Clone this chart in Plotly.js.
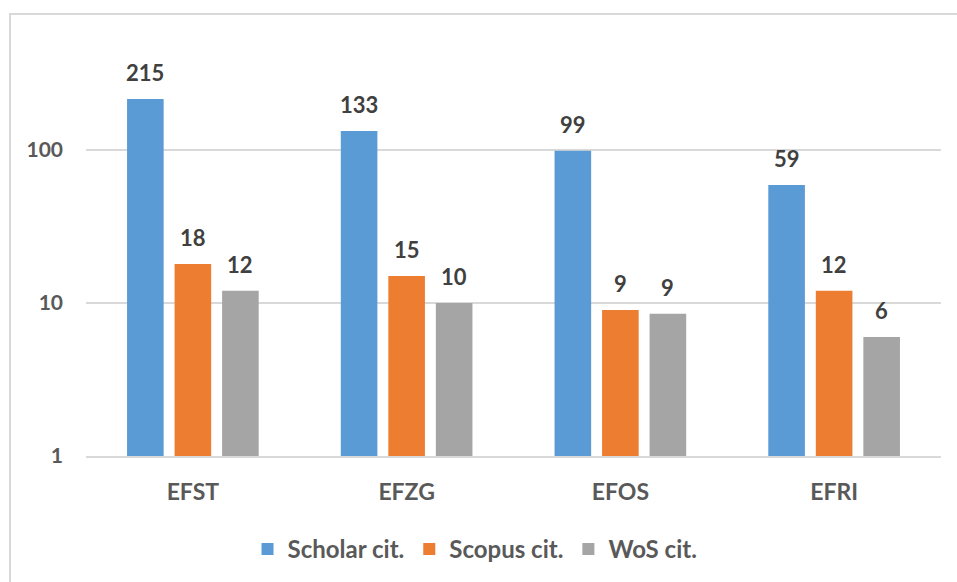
<!DOCTYPE html>
<html>
<head>
<meta charset="utf-8">
<script src="https://cdn.plot.ly/plotly-3.0.1.min.js"></script>
<style>
html,body{margin:0;padding:0;background:#fff;overflow:hidden;}
#frame{position:absolute;left:9px;top:13px;width:1000px;height:600px;border:2px solid #d9d9d9;box-sizing:border-box;}
#chart{position:absolute;left:0;top:0;width:957px;height:582px;}
</style>
</head>
<body>
<div id="frame"></div>
<div id="chart"></div>
<script>
const categories = ["EFST", "EFZG", "EFOS", "EFRI"];
const scholar = [215, 133, 99, 59];
const scopus = [18, 15, 9, 12];
const wos = [12, 10, 8.5, 6];
const seriesNames = ["Scholar cit.", "Scopus cit.", "WoS cit."];
const yTicks = [1, 10, 100];
const yTickText = ["1", "10", "100"];

const colors = ["#5b9bd5", "#ed7d31", "#a5a5a5"];
const font = "Lato, 'Open Sans', sans-serif";
const series = [scholar, scopus, wos];
const bargap = 0.333;
const slot = (1 - bargap) / series.length;

const traces = series.map((vals, i) => ({
  type: "bar",
  name: seriesNames[i],
  x: categories,
  y: vals,
  marker: {color: colors[i]},
  hoverinfo: "x+y"
}));

const annotations = [];
series.forEach((vals, k) => {
  vals.forEach((v, ci) => {
    annotations.push({
      xref: "x", yref: "y",
      x: ci + (k - (series.length - 1) / 2) * slot,
      y: Math.log10(v),
      text: String(Math.round(v)),
      showarrow: false,
      xanchor: "center", yanchor: "bottom",
      yshift: 11,
      font: {family: font, size: 22, color: "#404040", weight: "bold"}
    });
  });
});

const layout = {
  width: 957, height: 582,
  margin: {l: 86, r: 16, t: 30, b: 126, autoexpand: false},
  paper_bgcolor: "rgba(0,0,0,0)",
  plot_bgcolor: "rgba(0,0,0,0)",
  barmode: "group",
  bargap: bargap,
  bargroupgap: 0.23,
  showlegend: true,
  annotations: annotations,
  legend: {
    orientation: "h", x: 0.455, xanchor: "center",
    y: -0.219, yanchor: "middle",
    font: {family: font, size: 24, color: "#595959", weight: "bold"},
    itemwidth: 30, tracegroupgap: 0
  },
  xaxis: {
    type: "category",
    showgrid: false, zeroline: false,
    showline: true, linecolor: "#d9d9d9", linewidth: 2,
    ticks: "",
    ticklabelstandoff: 14,
    tickfont: {family: font, size: 23, color: "#595959", weight: "bold"}
  },
  yaxis: {
    type: "log",
    range: [0, 2.784],
    tickvals: yTicks, ticktext: yTickText,
    showgrid: true, gridcolor: "#d9d9d9", gridwidth: 2,
    zeroline: false, showline: false, ticks: "",
    ticklabelstandoff: 22,
    tickfont: {family: font, size: 21, color: "#595959", weight: "bold"}
  }
};

Plotly.newPlot("chart", traces, layout, {displayModeBar: false, staticPlot: true});
</script>
</body>
</html>
